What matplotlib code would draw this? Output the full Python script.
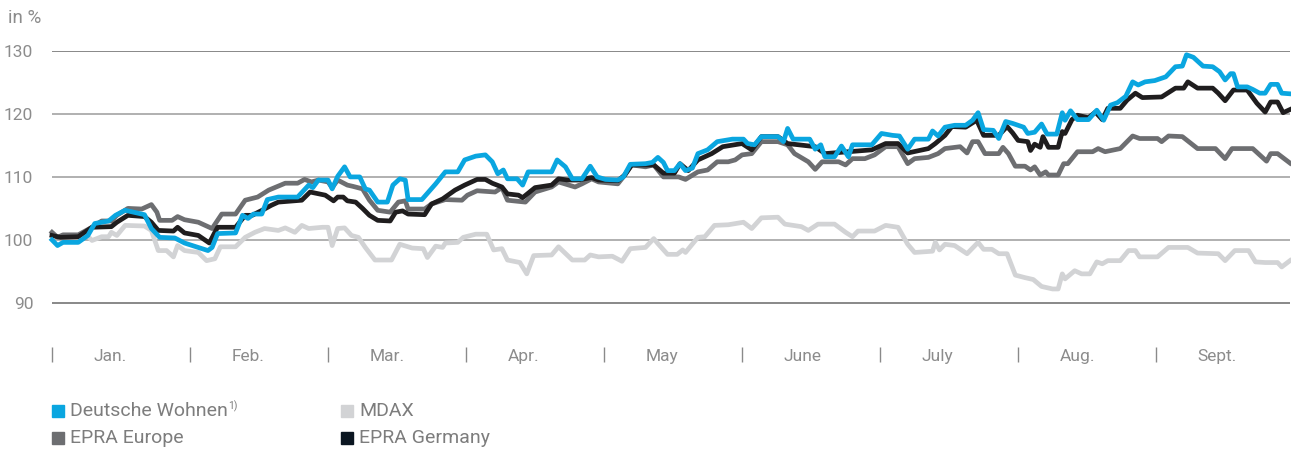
import matplotlib
matplotlib.use("Agg")
import matplotlib.pyplot as plt
from matplotlib.patches import Rectangle

plt.rcParams['font.family'] = ['Roboto', 'DejaVu Sans']

# x positions in months since 1 Jan (0 = start of Jan, 9 = end of Sept), values in %
dw_x = [0.00, 0.04, 0.08, 0.19, 0.26, 0.31, 0.41, 0.46, 0.53, 0.57, 0.67, 0.72, 0.78, 0.89, 0.96,
        1.06, 1.13, 1.16, 1.20, 1.33, 1.38, 1.42, 1.46, 1.52, 1.56, 1.64, 1.78, 1.86, 1.89, 1.93,
        2.00, 2.03, 2.07, 2.12, 2.16, 2.23, 2.27, 2.30, 2.36, 2.43, 2.47, 2.52, 2.56, 2.58, 2.68,
        2.78, 2.85, 2.94, 2.99, 3.07, 3.14, 3.19, 3.23, 3.27, 3.30, 3.37, 3.41, 3.45, 3.62, 3.66,
        3.72, 3.77, 3.84, 3.90, 3.95, 4.01, 4.10, 4.14, 4.19, 4.30, 4.35, 4.39, 4.43, 4.46, 4.51,
        4.55, 4.59, 4.64, 4.68, 4.75, 4.82, 4.93, 5.01, 5.04, 5.09, 5.14, 5.26, 5.30, 5.33, 5.37,
        5.49, 5.53, 5.57, 5.60, 5.67, 5.72, 5.77, 5.80, 5.94, 6.01, 6.09, 6.14, 6.20, 6.25, 6.35,
        6.38, 6.42, 6.47, 6.54, 6.62, 6.67, 6.71, 6.75, 6.82, 6.86, 6.91, 6.96, 7.04, 7.07, 7.12,
        7.17, 7.21, 7.28, 7.32, 7.34, 7.38, 7.43, 7.51, 7.57, 7.62, 7.67, 7.72, 7.78, 7.83, 7.87,
        7.92, 7.99, 8.07, 8.14, 8.19, 8.22, 8.27, 8.34, 8.41, 8.46, 8.50, 8.54, 8.56, 8.59, 8.66,
        8.70, 8.75, 8.79, 8.83, 8.88, 8.91, 8.97]
dw_y = [100.0, 99.1, 99.6, 99.6, 100.7, 102.6, 103.0, 103.9, 104.7, 104.5, 104.0, 101.8, 100.4, 100.3, 99.5,
        98.8, 98.3, 98.8, 101.0, 101.1, 103.9, 103.4, 104.1, 104.1, 106.4, 106.8, 106.8, 108.7, 108.3, 109.5,
        109.5, 108.1, 110.1, 111.6, 110.0, 110.0, 108.1, 107.9, 106.0, 106.0, 108.7, 109.7, 109.5, 106.4, 106.4,
        108.9, 110.8, 110.8, 112.7, 113.3, 113.5, 112.4, 110.5, 111.1, 109.7, 109.7, 108.7, 110.8, 110.8, 112.7,
        111.6, 109.7, 109.7, 111.7, 110.0, 109.6, 109.5, 110.0, 112.0, 112.1, 112.3, 113.1, 112.3, 111.0, 111.0,
        112.1, 111.0, 111.4, 113.7, 114.3, 115.6, 116.0, 116.0, 115.3, 115.1, 116.4, 116.4, 115.6, 117.7, 116.0,
        116.0, 114.4, 115.1, 113.2, 113.2, 114.9, 113.2, 115.1, 115.1, 116.9, 116.6, 116.5, 114.4, 116.0, 116.0,
        117.3, 116.5, 117.9, 118.2, 118.2, 119.0, 120.2, 117.5, 117.4, 116.1, 118.8, 118.5, 117.9, 116.9, 117.1,
        118.4, 116.8, 116.8, 120.2, 119.0, 120.5, 119.1, 119.1, 120.6, 119.0, 121.4, 121.8, 122.8, 125.1, 124.6,
        125.1, 125.3, 125.9, 127.5, 127.6, 129.4, 129.0, 127.6, 127.5, 126.7, 125.4, 126.4, 126.4, 124.3, 124.3,
        123.9, 123.3, 123.3, 124.7, 124.7, 123.3, 123.2]

mdax_x = [0.00, 0.04, 0.08, 0.19, 0.24, 0.29, 0.36, 0.41, 0.43, 0.47, 0.53, 0.67, 0.72, 0.77, 0.83,
          0.88, 0.91, 0.96, 1.06, 1.12, 1.18, 1.22, 1.33, 1.40, 1.47, 1.54, 1.64, 1.69, 1.76, 1.81,
          1.86, 1.96, 2.00, 2.03, 2.07, 2.12, 2.17, 2.22, 2.27, 2.34, 2.46, 2.52, 2.61, 2.69, 2.72,
          2.78, 2.83, 2.85, 2.94, 2.98, 3.07, 3.15, 3.20, 3.26, 3.30, 3.39, 3.44, 3.49, 3.62, 3.67,
          3.77, 3.86, 3.90, 3.96, 4.06, 4.13, 4.19, 4.30, 4.36, 4.39, 4.46, 4.53, 4.57, 4.59, 4.68,
          4.73, 4.80, 4.90, 5.01, 5.07, 5.14, 5.26, 5.31, 5.37, 5.43, 5.48, 5.55, 5.67, 5.75, 5.80,
          5.84, 5.96, 6.04, 6.13, 6.20, 6.25, 6.38, 6.40, 6.43, 6.47, 6.54, 6.63, 6.71, 6.75, 6.81,
          6.86, 6.92, 6.98, 7.05, 7.11, 7.17, 7.25, 7.29, 7.32, 7.34, 7.41, 7.46, 7.52, 7.57, 7.61,
          7.65, 7.74, 7.80, 7.85, 7.88, 8.01, 8.09, 8.23, 8.30, 8.45, 8.50, 8.57, 8.67, 8.72, 8.79,
          8.88, 8.91, 8.97]
mdax_y = [101.0, 100.4, 100.6, 100.5, 101.0, 99.9, 100.5, 100.5, 101.2, 100.7, 102.3, 102.2, 101.5, 98.3, 98.3,
          97.3, 99.1, 98.3, 98.0, 96.7, 97.0, 98.9, 98.9, 100.4, 101.2, 101.8, 101.5, 101.9, 101.2, 102.3,
          101.8, 102.0, 102.0, 99.1, 101.8, 101.9, 100.7, 100.4, 98.8, 96.8, 96.8, 99.3, 98.7, 98.6, 97.2,
          99.0, 98.8, 99.5, 99.6, 100.4, 100.9, 100.9, 98.4, 98.6, 96.8, 96.4, 94.6, 97.5, 97.6, 98.9,
          96.8, 96.8, 97.6, 97.3, 97.4, 96.6, 98.6, 98.8, 100.2, 99.4, 97.7, 97.7, 98.4, 98.0, 100.4,
          100.5, 102.3, 102.4, 102.8, 101.8, 103.5, 103.6, 102.5, 102.3, 102.1, 101.5, 102.5, 102.5, 101.2, 100.5,
          101.4, 101.4, 102.3, 102.0, 99.3, 98.0, 98.2, 99.6, 98.4, 99.3, 99.1, 97.8, 99.6, 98.5, 98.5,
          97.8, 97.8, 94.4, 94.0, 93.7, 92.6, 92.2, 92.2, 94.6, 93.8, 95.1, 94.6, 94.6, 96.5, 96.2,
          96.7, 96.7, 98.3, 98.3, 97.3, 97.3, 98.8, 98.8, 97.9, 97.8, 96.7, 98.3, 98.3, 96.5, 96.4,
          96.4, 95.7, 96.7]

epra_eu_x = [0.00, 0.04, 0.08, 0.19, 0.29, 0.36, 0.43, 0.47, 0.55, 0.65, 0.72, 0.76, 0.78, 0.87, 0.91,
             0.96, 1.06, 1.16, 1.23, 1.33, 1.40, 1.49, 1.57, 1.69, 1.78, 1.83, 1.88, 1.93, 2.00, 2.03,
             2.07, 2.14, 2.18, 2.25, 2.30, 2.36, 2.45, 2.51, 2.56, 2.58, 2.70, 2.75, 2.85, 2.97, 3.01,
             3.08, 3.21, 3.26, 3.30, 3.43, 3.50, 3.62, 3.67, 3.79, 3.84, 3.91, 3.96, 4.10, 4.15, 4.20,
             4.30, 4.36, 4.43, 4.54, 4.59, 4.68, 4.75, 4.82, 4.90, 4.95, 5.00, 5.07, 5.14, 5.26, 5.33,
             5.38, 5.48, 5.53, 5.58, 5.70, 5.75, 5.80, 5.89, 5.96, 6.04, 6.13, 6.20, 6.25, 6.35, 6.42,
             6.47, 6.58, 6.63, 6.67, 6.71, 6.76, 6.86, 6.89, 6.93, 6.98, 7.05, 7.09, 7.12, 7.16, 7.20,
             7.22, 7.29, 7.33, 7.36, 7.43, 7.54, 7.58, 7.63, 7.74, 7.83, 7.88, 8.01, 8.04, 8.09, 8.19,
             8.30, 8.43, 8.50, 8.55, 8.70, 8.77, 8.80, 8.83, 8.88, 8.97]
epra_eu_y = [101.2, 100.4, 100.8, 100.8, 102.0, 103.0, 103.0, 103.9, 105.0, 104.9, 105.6, 104.4, 103.1, 103.1, 103.7,
             103.2, 102.8, 101.8, 104.1, 104.1, 106.3, 106.8, 107.9, 109.0, 109.0, 109.6, 109.2, 109.5, 109.2, 108.3,
             109.5, 108.7, 108.5, 108.1, 106.3, 104.7, 104.4, 106.0, 106.2, 104.9, 104.9, 105.7, 106.4, 106.3, 107.1,
             107.8, 107.6, 108.3, 106.3, 106.0, 107.6, 108.4, 109.2, 108.4, 108.9, 109.7, 109.2, 108.9, 110.3, 111.9,
             111.6, 111.9, 110.0, 110.0, 109.6, 110.8, 111.1, 112.4, 112.4, 112.7, 113.5, 113.7, 115.6, 115.6, 115.1,
             113.7, 112.4, 111.2, 112.4, 112.4, 111.9, 112.9, 112.9, 113.5, 114.8, 114.8, 112.1, 112.9, 113.1, 113.7,
             114.5, 114.8, 113.8, 115.6, 115.6, 113.7, 113.7, 114.7, 113.7, 111.7, 111.7, 111.1, 111.6, 110.3, 110.8,
             110.3, 110.3, 112.1, 112.1, 114.0, 114.0, 114.5, 114.0, 114.5, 116.5, 116.1, 116.1, 115.6, 116.5, 116.4,
             114.5, 114.5, 112.9, 114.5, 114.5, 113.1, 112.5, 113.7, 113.7, 112.2]

epra_de_x = [0.00, 0.06, 0.19, 0.29, 0.43, 0.47, 0.55, 0.67, 0.72, 0.77, 0.88, 0.91, 0.96, 1.06, 1.14,
             1.18, 1.20, 1.33, 1.40, 1.45, 1.54, 1.59, 1.64, 1.81, 1.87, 1.98, 2.04, 2.07, 2.11, 2.14,
             2.20, 2.25, 2.30, 2.36, 2.45, 2.49, 2.54, 2.58, 2.70, 2.75, 2.83, 2.92, 2.99, 3.08, 3.14,
             3.19, 3.26, 3.30, 3.38, 3.41, 3.50, 3.62, 3.67, 3.74, 3.81, 3.91, 3.96, 4.10, 4.15, 4.20,
             4.30, 4.36, 4.43, 4.51, 4.55, 4.61, 4.68, 4.78, 4.86, 5.00, 5.07, 5.14, 5.26, 5.33, 5.53,
             5.60, 5.77, 5.94, 6.04, 6.13, 6.20, 6.35, 6.40, 6.47, 6.52, 6.62, 6.70, 6.75, 6.86, 6.92,
             6.96, 7.00, 7.07, 7.09, 7.12, 7.16, 7.18, 7.22, 7.29, 7.32, 7.34, 7.39, 7.43, 7.51, 7.56,
             7.61, 7.65, 7.74, 7.79, 7.85, 7.90, 8.04, 8.14, 8.20, 8.23, 8.30, 8.41, 8.45, 8.50, 8.56,
             8.66, 8.73, 8.79, 8.83, 8.88, 8.92, 8.97]
epra_de_y = [100.7, 100.4, 100.5, 102.0, 102.1, 102.8, 103.9, 103.7, 102.8, 101.5, 101.4, 102.0, 101.1, 100.7, 99.5,
             101.2, 102.0, 102.0, 103.9, 103.9, 104.9, 105.5, 106.0, 106.3, 107.6, 107.1, 106.2, 106.8, 106.8, 106.2,
             106.0, 105.0, 103.9, 103.1, 103.0, 104.4, 104.6, 104.1, 104.0, 105.7, 106.5, 107.9, 108.7, 109.6, 109.6,
             109.0, 108.4, 107.3, 107.1, 106.7, 108.3, 108.7, 109.7, 109.5, 109.5, 109.9, 109.5, 109.4, 110.3, 111.9,
             111.9, 111.9, 110.6, 110.6, 112.1, 111.0, 112.7, 113.7, 114.8, 115.3, 114.3, 116.4, 116.4, 115.3, 114.8,
             113.7, 114.0, 114.3, 115.3, 115.3, 113.8, 114.5, 115.3, 116.6, 118.0, 117.9, 119.0, 116.6, 116.6, 118.0,
             117.0, 115.8, 115.6, 114.2, 115.2, 114.7, 116.4, 114.7, 114.7, 117.2, 116.9, 119.1, 119.8, 119.4, 120.3,
             119.1, 120.9, 120.9, 122.2, 123.3, 122.6, 122.7, 124.1, 124.1, 125.1, 124.1, 124.1, 123.3, 122.1, 123.8,
             123.8, 121.7, 120.3, 121.9, 121.9, 120.2, 120.7]

months = ['Jan.', 'Feb.', 'Mar.', 'Apr.', 'May', 'June', 'July', 'Aug.', 'Sept.']
y_ticks = [90, 100, 110, 120, 130]

c_dw = '#0aa6e0'
c_mdax = '#d2d3d5'
c_eu = '#6d6e71'
c_de = '#1f1d1e'
txt = '#8c8c8c'

W, H = 1291, 450
fig = plt.figure(figsize=(W / 100, H / 100), dpi=100)
ax = fig.add_axes([52 / W, 1 - 362 / H, (1290 - 52) / W, (362 - 51) / H])
ax.set_xlim(0, 8.97)
ax.set_ylim(80.6, 130)

# grid lines
for v in y_ticks:
    col = '#7f7f7f' if v in (90, 130) else '#aaaaaa'
    ax.axhline(v, color=col, lw=1.3, zorder=1)

lw = 3.4
ax.plot(mdax_x, mdax_y, color=c_mdax, lw=lw, zorder=2, clip_on=False)
ax.plot(epra_eu_x, epra_eu_y, color=c_eu, lw=lw, zorder=3, clip_on=False)
ax.plot(epra_de_x, epra_de_y, color=c_de, lw=lw, zorder=4, clip_on=False)
ax.plot(dw_x, dw_y, color=c_dw, lw=lw, zorder=5, clip_on=False)

for s in ax.spines.values():
    s.set_visible(False)

ax.set_yticks(y_ticks)
ax.set_yticklabels([str(v) for v in y_ticks])
ax.tick_params(axis='y', length=0, pad=13.5, labelsize=12.5, labelcolor=txt)

ax.set_xticks(range(9))
ax.set_xticklabels([])
ax.tick_params(axis='x', direction='in', length=10.8, width=1.0, color='#8a8a8a')
for i, m in enumerate(months):
    ax.text(i + 0.3, 0.018, m, transform=ax.get_xaxis_transform(), ha='left', va='center',
            fontsize=12.5, color=txt)

fig.text(8 / W, 1 - 18 / H, 'in %', ha='left', va='center', fontsize=13.5, color=txt)

# legend
legend_items = [('Deutsche Wohnen', c_dw, 52, 411), ('MDAX', c_mdax, 341, 411),
                ('EPRA Europe', c_eu, 52, 438), ('EPRA Germany', '#0b1621', 341, 438)]
for label, col, lx, ly in legend_items:
    fig.patches.append(Rectangle((lx / W, 1 - (ly + 6) / H), 12 / W, 12 / H, color=col,
                                 transform=fig.transFigure, figure=fig))
    t = fig.text((lx + 18) / W, 1 - ly / H, label, ha='left', va='center', fontsize=14,
                 color='#7d7d7d')
    if label == 'Deutsche Wohnen':
        fig.canvas.draw()
        bb = t.get_window_extent()
        fig.text(bb.x1 / W, 1 - (ly - 5) / H, '1)', ha='left', va='center', fontsize=7.5,
                 color='#7d7d7d')

fig.savefig('out.png', dpi=100)
